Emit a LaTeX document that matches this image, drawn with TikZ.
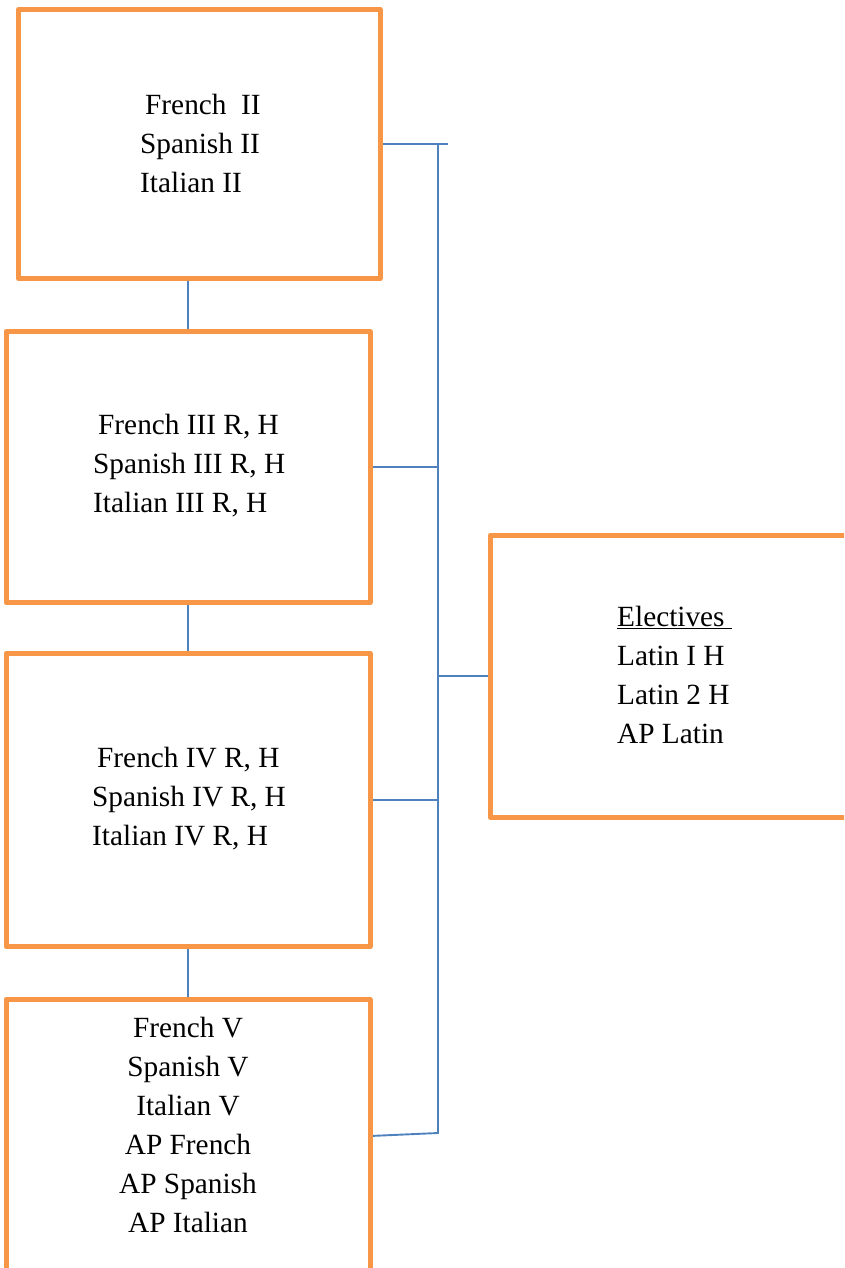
\documentclass[tikz,border=0pt]{standalone}
\usepackage{fontspec}
\setmainfont{Liberation Serif}
\usepackage{tikz}
\usetikzlibrary{positioning, backgrounds}

\definecolor{boxorange}{HTML}{F79646}
\definecolor{linkblue}{HTML}{4F81BD}

\begin{document}
\begin{tikzpicture}[x=1pt, y=-1pt,
  box/.style  = {draw=boxorange, line width=5pt, line join=round, rectangle,
                 inner sep=0pt, outer sep=0pt, minimum width=364pt},
  txt/.style  = {draw=none, font=\fontsize{29.3}{39}\selectfont, inner sep=0pt},
  link/.style = {draw=linkblue, line width=1.9pt}]

\useasboundingbox (0,0) rectangle (844,1268);
\clip (0,0) rectangle (844,1268);

\node [box, minimum width=361.5pt, minimum height=269pt] at (199.25,144) (b1) {};
\node [box, minimum height=271pt                       ] at (188,467)    (b2) {};
\node [box, minimum height=293pt, below=51pt of b2     ]                 (b3) {};
\node [box, minimum height=300pt, below=53pt of b3     ]                 (b4) {};
\node [box, minimum height=282.5pt                     ] at (672.5,676.25) (b5) {};

\node [txt, align=left,   anchor=west] at (140,143) (t1) {\hspace*{5pt}French\ \ II\\Spanish II\\Italian II};
\node [txt, align=left,   anchor=west] at (93,466)  (t2) {\hspace*{5pt}French III R, H\\Spanish III R, H\\Italian III R, H};
\node [txt, align=left,   anchor=west] at (92,799)  (t3) {\hspace*{5pt}French IV R, H\\Spanish IV R, H\\Italian IV R, H};
\node [txt, align=center             ] at (188,1125) (t4) {French V\\Spanish V\\Italian V\\AP French\\AP Spanish\\AP Italian};
\node [txt, align=left,   anchor=west] at (617,675) (t5) {\underline{Electives\ }\\Latin I H\\Latin 2 H\\AP Latin};

\coordinate (jt)   at (438,144);
\coordinate (tend) at (448,144);
\coordinate (jb)   at (438,1133);
\coordinate (c4)   at (370,1136);

\begin{scope}[on background layer]
\path [link] (b2.north) edge (b2.north |- b1.south);
\path [link] (b3.north) edge (b2.south);
\path [link] (b4.north) edge (b3.south);

\path [link] (b1.east) edge (tend);
\path [link] (b2.east) edge (b2.east -| jt);
\path [link] (b3.east) edge (b3.east -| jt);
\path [link] (b5.west) edge (b5.west -| jt);
\draw [link] (jt) -- (jb) -- (c4);
\end{scope}

\end{tikzpicture}
\end{document}
